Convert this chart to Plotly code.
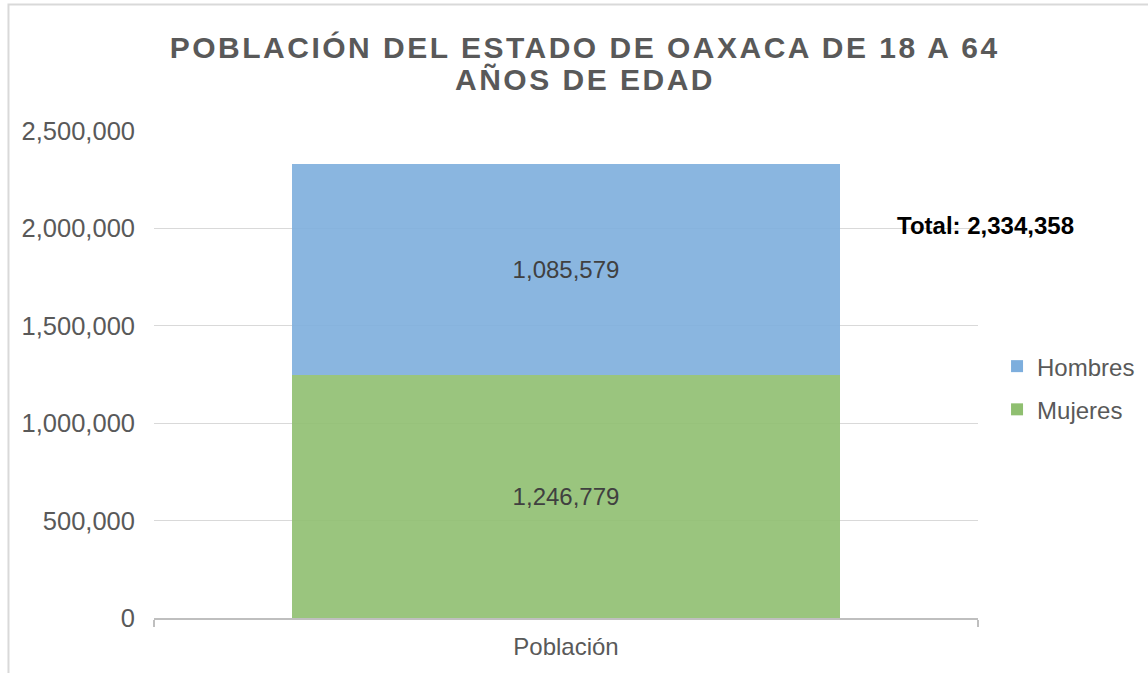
import plotly.graph_objects as go

categories = ["Población"]
mujeres = [1246779]
hombres = [1085579]
total_label = 2334358
series_names = ["Mujeres", "Hombres"]
title_lines = ["POBLACIÓN DEL ESTADO DE OAXACA DE 18 A 64", "AÑOS DE EDAD"]

FONT = "Liberation Sans, Arial, sans-serif"

fig = go.Figure()
fig.add_trace(go.Bar(
    x=categories, y=mujeres, name=series_names[0], legendgroup="m", legendrank=2,
    marker=dict(color="rgb(143,191,112)", opacity=0.9, line=dict(width=0)),
    texttemplate="%{y:,}", textposition="inside", insidetextanchor="middle",
    textfont=dict(size=24, color="#404040", family=FONT), constraintext="none",
))
fig.add_trace(go.Bar(
    x=categories, y=hombres, name=series_names[1], legendgroup="h", legendrank=1,
    marker=dict(color="rgb(125,174,221)", opacity=0.9, line=dict(width=0)),
    texttemplate="%{y:,}", textposition="inside", insidetextanchor="middle",
    textfont=dict(size=24, color="#404040", family=FONT), constraintext="none",
))

fig.update_layout(
    barmode="stack",
    bargap=0.334,
    width=1148, height=673,
    margin=dict(l=154, r=170, t=131, b=55, autoexpand=False),
    paper_bgcolor="white", plot_bgcolor="white",
    font=dict(family=FONT, size=24, color="#595959"),
    showlegend=True,
    legend=dict(
        xref="container", yref="container",
        x=0.8685, y=0.4888, xanchor="left", yanchor="top",
        traceorder="grouped", tracegroupgap=9,
        font=dict(size=24, color="#595959", family=FONT),
        bgcolor="rgba(0,0,0,0)",
    ),
    xaxis=dict(
        showline=True, linecolor="#BFBFBF", linewidth=1.5,
        ticks="outside", tickson="boundaries", tickcolor="#BFBFBF", ticklen=7, tickwidth=1.5,
        ticklabelstandoff=6,
        tickfont=dict(size=24, color="#595959", family=FONT),
        showgrid=False,
    ),
    yaxis=dict(
        range=[0, 2500000], dtick=500000, tickformat=",",
        showgrid=True, gridcolor="#D9D9D9", gridwidth=1,
        zeroline=False, showline=False, ticks="",
        ticklabelstandoff=18,
        tickfont=dict(size=25.5, color="#595959", family=FONT),
    ),
    annotations=[
        dict(
            text=title_lines[0], xref="paper", yref="paper",
            x=0.523, y=(618 - 47) / 487, xanchor="center", yanchor="middle",
            showarrow=False,
            font=dict(size=30, color="#595959", family=FONT, weight="bold"),
        ),
        dict(
            text=title_lines[1], xref="paper", yref="paper",
            x=0.523, y=(618 - 80) / 487, xanchor="center", yanchor="middle",
            showarrow=False,
            font=dict(size=30, color="#595959", family=FONT, weight="bold"),
        ),
        dict(
            text=f"Total: {total_label:,}", xref="paper", yref="paper",
            x=0.8995, y=0.805, xanchor="left", yanchor="middle",
            showarrow=False,
            font=dict(size=24, color="#000000", family=FONT, weight="bold"),
        ),
    ],
    shapes=[
        dict(type="rect", xref="paper", yref="paper",
             x0=-0.1766, x1=1.3, y0=-0.2, y1=1.2598,
             line=dict(color="#D9D9D9", width=2), fillcolor="rgba(0,0,0,0)", layer="below"),
    ],
)

post = """
document.body.style.margin = '0';
var t = document.querySelectorAll('.annotation-text');
for (var i = 0; i < 2 && i < t.length; i++) { t[i].style.letterSpacing = '2.5px'; }
"""
fig.write_html("out.html", post_script=post, config={"displayModeBar": False})
